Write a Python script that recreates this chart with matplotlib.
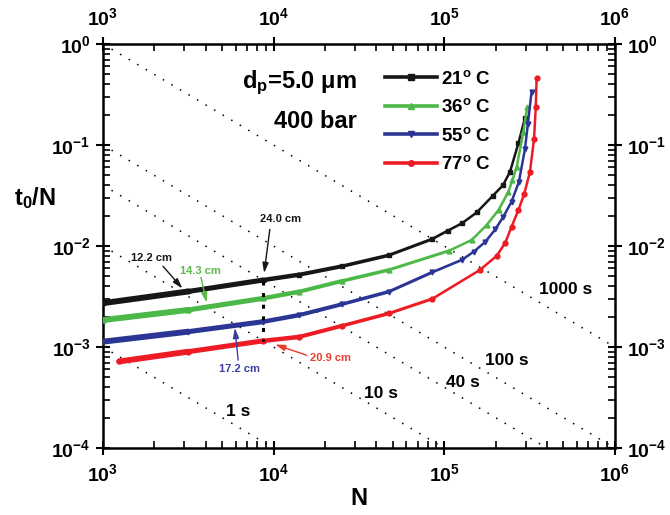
import matplotlib
matplotlib.use('Agg')
import math
import matplotlib.pyplot as plt
from matplotlib import font_manager
from matplotlib.lines import Line2D
from matplotlib.ticker import LogLocator, NullFormatter

# condensed bold face if available, plain Liberation Sans otherwise
font = 'Liberation Sans'
try:
    font_manager.findfont('Liberation Sans Narrow', fallback_to_default=False)
    font = 'Liberation Sans Narrow'
except ValueError:
    pass

plt.rcParams['font.family'] = [font, 'DejaVu Sans']
plt.rcParams['font.weight'] = 'bold'
plt.rcParams['axes.labelweight'] = 'bold'
plt.rcParams['axes.unicode_minus'] = False
plt.rcParams['mathtext.fontset'] = 'custom'
plt.rcParams['mathtext.rm'] = font + ':bold'
plt.rcParams['mathtext.it'] = font + ':bold'
plt.rcParams['mathtext.bf'] = font + ':bold'

# kinetic plot data: plate number N vs t0/N (s)
N_21 = [1.0e3, 3.16e3, 8.63e3, 1.41e4, 2.51e4, 4.73e4, 8.47e4, 1.05e5, 1.27e5,
        1.55e5, 1.92e5, 2.21e5, 2.43e5, 2.72e5, 2.97e5]
t_21 = [2.72e-3, 3.55e-3, 4.6e-3, 5.2e-3, 6.3e-3, 8.1e-3, 1.17e-2, 1.42e-2, 1.68e-2,
        2.15e-2, 3.13e-2, 4.0e-2, 5.44e-2, 0.104, 0.184]

N_36 = [1.0e3, 3.16e3, 8.63e3, 1.41e4, 2.51e4, 4.73e4, 1.07e5, 1.45e5, 1.77e5,
        2.08e5, 2.38e5, 2.51e5, 2.66e5, 2.91e5, 3.07e5]
t_36 = [1.85e-3, 2.33e-3, 3.03e-3, 3.53e-3, 4.5e-3, 5.8e-3, 9.0e-3, 1.15e-2, 1.61e-2,
        2.27e-2, 3.46e-2, 4.5e-2, 6.1e-2, 0.135, 0.24]

N_55 = [1.0e3, 3.16e3, 8.63e3, 1.41e4, 2.51e4, 4.73e4, 8.51e4, 1.27e5, 1.49e5,
        1.74e5, 1.99e5, 2.22e5, 2.48e5, 2.74e5, 2.97e5, 3.09e5, 3.25e5]
t_55 = [1.13e-3, 1.42e-3, 1.78e-3, 2.07e-3, 2.65e-3, 3.53e-3, 5.5e-3, 7.3e-3, 8.8e-3,
        1.1e-2, 1.46e-2, 1.95e-2, 2.75e-2, 4.33e-2, 9.06e-2, 0.16, 0.337]

N_77 = [1.245e3, 3.16e3, 8.63e3, 1.41e4, 2.51e4, 4.73e4, 8.51e4, 1.62e5, 2.03e5,
        2.28e5, 2.48e5, 2.72e5, 2.94e5, 3.18e5, 3.36e5, 3.44e5, 3.48e5]
t_77 = [7.2e-4, 9.0e-4, 1.15e-3, 1.26e-3, 1.62e-3, 2.15e-3, 3.0e-3, 5.8e-3, 8.0e-3,
        1.08e-2, 1.55e-2, 2.27e-2, 3.25e-2, 5.44e-2, 0.115, 0.24, 0.457]

labels = ['21$^{\\mathrm{o}}$ C', '36$^{\\mathrm{o}}$ C', '55$^{\\mathrm{o}}$ C', '77$^{\\mathrm{o}}$ C']
colors = ['#161616', '#4cb847', '#2b3593', '#ed1c24']
markers = ['s', '^', 'v', 'o']

# constant analysis-time lines (t0 = const)
times = [1, 10, 40, 100, 1000]
time_text = ['1 s', '10 s', '40 s', '100 s', '1000 s']
time_pos = [(6.2e3, 2.3e-4), (4.24e4, 3.5e-4), (1.28e5, 4.5e-4), (2.34e5, 7.4e-4), (5.14e5, 3.7e-3)]
N_span = [1e3, 1e6]

# column lengths marked on the curves
len_text = ['24.0 cm', '12.2 cm', '14.3 cm', '17.2 cm', '20.9 cm']
len_color = ['#161616', '#161616', '#5cb84a', '#3a3fa0', '#ef3b2c']
len_pos = [(1.1e4, 1.86e-2), (1.93e3, 7.6e-3), (3.72e3, 5.6e-3), (6.3e3, 6.0e-4), (2.15e4, 7.8e-4)]
len_tail = [(9.5e3, 1.46e-2), (2.25e3, 6.3e-3), (3.75e3, 4.9e-3), (6.2e3, 7.4e-4), (1.56e4, 8.3e-4)]
len_head = [(8.8e3, 5.4e-3), (2.92e3, 3.8e-3), (4.05e3, 2.75e-3), (5.93e3, 1.55e-3), (1.02e4, 1.06e-3)]
ref_N = [8.7e3, 8.7e3]
ref_t = [4.5e-3, 1.15e-3]


def stroke(n):
    # the plotted points crowd together at low N, so the trace looks heavier there
    f = min(max((math.log10(n) - 3.0) / 2.1, 0.0), 1.0)
    return 4.6 - 2.8 * f


fig = plt.figure(figsize=(6.7, 5.15), dpi=100)
ax = fig.add_axes([0.1537, 0.130, 0.764, 0.7845])
ax.set_xscale('log')
ax.set_yscale('log')
ax.set_xlim(1e3, 1e6)
ax.set_ylim(1e-4, 1e0)

for t in times:
    ax.plot(N_span, [t / n for n in N_span], color='black', lw=1.1,
            linestyle=(0, (1, 5.5)), zorder=1)
for txt, (x, y) in zip(time_text, time_pos):
    ax.text(x, y, txt, fontsize=12.5, ha='center', va='center')

series = [(N_21, t_21), (N_36, t_36), (N_55, t_55), (N_77, t_77)]
handles = []
for (n, t), lab, c, m in zip(series, labels, colors, markers):
    for i in range(len(n) - 1):
        w = stroke(math.sqrt(n[i] * n[i + 1]))
        ax.plot(n[i:i + 2], t[i:i + 2], color=c, lw=w, solid_capstyle='round', zorder=3)
    ax.plot(n, t, color=c, lw=0, marker=m, markersize=3.5, zorder=3)
    handles.append(Line2D([], [], color=c, lw=2.6, marker=m, markersize=4, label=lab))

ax.plot(ref_N, ref_t, color='black', lw=2.2, linestyle=(0, (1.3, 2.5)), zorder=4)

for txt, c, pos, tail, head in zip(len_text, len_color, len_pos, len_tail, len_head):
    ax.text(pos[0], pos[1], txt, fontsize=8, color=c, ha='center', va='center')
    ax.annotate('', xy=head, xytext=tail,
                arrowprops=dict(arrowstyle='-|>,head_width=0.18,head_length=0.6',
                                color=c, lw=1.0, shrinkA=0, shrinkB=0))

ax.text(0.496, 0.890, 'd$_\\mathrm{p}$=5.0 \u03bcm', transform=ax.transAxes,
        fontsize=17, ha='right', va='baseline')
ax.text(0.496, 0.791, '400 bar', transform=ax.transAxes,
        fontsize=17, ha='right', va='baseline')

ax.legend(handles=handles, loc='upper left', bbox_to_anchor=(0.551, 0.936), frameon=False,
          fontsize=13.5, handlelength=2.77, handletextpad=0.2,
          labelspacing=0.56, borderpad=0, borderaxespad=0, numpoints=1)

ax.set_xlabel('N', fontsize=17, labelpad=1)
ax.set_ylabel('t$_\\mathrm{0}$/N', fontsize=17, rotation=0, ha='center', va='center')
ax.yaxis.set_label_coords(-0.133, 0.62)

for axis in (ax.xaxis, ax.yaxis):
    axis.set_major_locator(LogLocator(base=10, numticks=10))
    axis.set_minor_locator(LogLocator(base=10, subs=range(2, 10), numticks=20))
    axis.set_minor_formatter(NullFormatter())

ax.tick_params(which='major', direction='inout', length=10, width=1.5,
               labelsize=14, top=True, right=True, labeltop=True, labelright=True, pad=4)
ax.tick_params(which='minor', direction='in', length=5, width=1.2, top=True, right=True)
ax.tick_params(axis='x', which='major', pad=6)
for s in ax.spines.values():
    s.set_linewidth(1.8)

plt.savefig('out.png', dpi=100)
